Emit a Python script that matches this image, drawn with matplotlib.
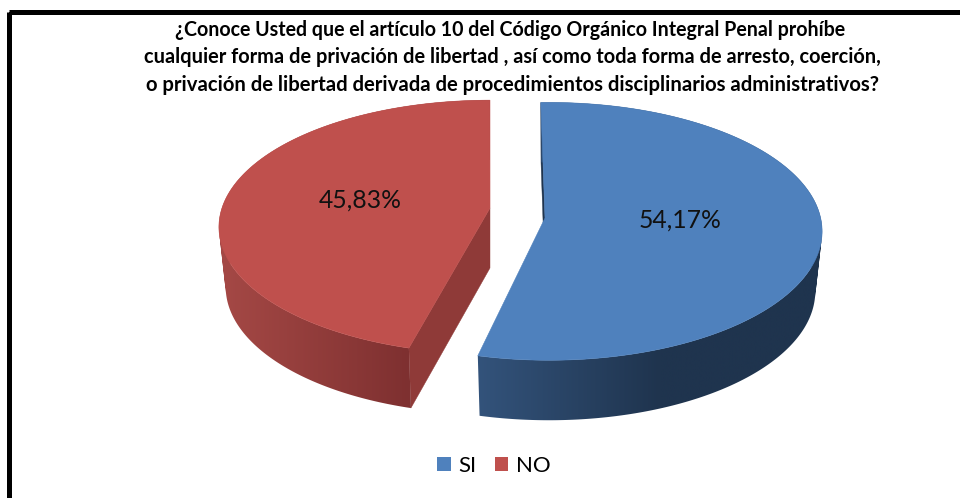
import numpy as np
import matplotlib
matplotlib.use("Agg")
import matplotlib.pyplot as plt
from matplotlib.colors import LinearSegmentedColormap
from matplotlib.patches import Patch, PathPatch, Polygon, Rectangle
from matplotlib.path import Path

categories = ["SI", "NO"]
values = [54.17, 45.83]
value_labels = ["54,17%", "45,83%"]
title_lines = [
    "¿Conoce Usted que el artículo 10 del Código Orgánico Integral Penal prohíbe",
    "cualquier forma de privación de libertad , así como toda forma de arresto, coerción,",
    "o privación de libertad derivada de procedimientos disciplinarios administrativos?",
]
top_colors = ["#4F81BD", "#BF504D"]
FONT = "Lato"

# per-slice drawing geometry, in pixels of the figure
styles = [
    dict(start=-2.0, cx=549, cy=212, a=270, b=126, apex=(545, 218),
         gx=[477, 660], gc=["#33537B", "#1F344E"], cut="#1F344E", lab=(680, 220)),
    dict(start=195.0, cx=490, cy=208, a=268, b=124, apex=(490, 208),
         gx=[225, 410], gc=["#A44845", "#7E3030"], cut="#8F3A38", lab=(360, 200)),
]
K = 0.15       # perspective
DEPTH = 60
SHRINK = 0.975  # lower rim is slightly narrower


def rim(t_deg, s, lower=False):
    t = np.radians(t_deg)
    x, y = np.sin(t), np.cos(t)
    w = 1 + K * y
    sx = SHRINK if lower else 1.0
    return (s["cx"] + sx * s["a"] * x / w,
            s["cy"] - s["b"] * y / w + (DEPTH if lower else 0))


def wall_path(ux, uy, lx, ly):
    """Union of the wall's quads, all wound the same way so none cancels."""
    verts, codes = [], []
    for i in range(len(ux) - 1):
        q = np.array([(ux[i], uy[i]), (ux[i + 1], uy[i + 1]),
                      (lx[i + 1], ly[i + 1]), (lx[i], ly[i])])
        area = np.sum(q[:, 0] * np.roll(q[:, 1], -1) - np.roll(q[:, 0], -1) * q[:, 1])
        if area < 0:
            q = q[::-1]
        verts += list(q) + [q[0]]
        codes += [Path.MOVETO, Path.LINETO, Path.LINETO, Path.LINETO, Path.CLOSEPOLY]
    return Path(np.array(verts), codes)


fig = plt.figure(figsize=(9.6, 4.98), dpi=100, facecolor="white")
ax = fig.add_axes([0, 0, 1, 1])
ax.axis("off")

# frame
ax.add_patch(Rectangle((8.5, 11.5), 1000, 1000, fill=False, ec="black", lw=3.6, zorder=1))

for val, color, s in zip(values, top_colors, styles):
    sweep = val / sum(values) * 360
    ts = np.linspace(s["start"], s["start"] + sweep, 360)
    ux, uy = rim(ts, s)
    lx, ly = rim(ts, s, lower=True)

    # radial wall on the starting edge
    ax0, ay0 = s["apex"]
    cut = [(ux[0], uy[0]), (lx[0], ly[0]), (ax0, ay0 + DEPTH), (ax0, ay0)]
    ax.add_patch(Polygon(cut, closed=True, fc=s["cut"], ec=s["cut"], lw=0.3, zorder=2))

    # outer wall: a horizontal gradient clipped to the wall's outline
    wall = PathPatch(wall_path(ux, uy, lx, ly), fc="none", ec="none", transform=ax.transData)
    ax.add_patch(wall)
    cmap = LinearSegmentedColormap.from_list("wall", s["gc"])
    all_x, all_y = np.r_[ux, lx], np.r_[uy, ly]
    ext_l, ext_r = all_x.min() - 2, all_x.max() + 2
    xs = np.linspace(ext_l, ext_r, 512)
    grad = np.clip((xs - s["gx"][0]) / (s["gx"][1] - s["gx"][0]), 0, 1).reshape(1, -1)
    im = ax.imshow(grad, cmap=cmap, vmin=0, vmax=1, aspect="auto",
                   extent=(ext_l, ext_r, all_y.max() + 2, all_y.min() - 2),
                   interpolation="bilinear", zorder=3)
    im.set_clip_path(wall)

    # top face
    top = np.column_stack([np.r_[ax0, ux], np.r_[ay0, uy]])
    ax.add_patch(Polygon(top, closed=True, fc=color, ec=color, lw=0.4, zorder=4))

ax.set_xlim(0, 960)
ax.set_ylim(498, 0)

for lab, s in zip(value_labels, styles):
    ax.text(*s["lab"], lab, ha="center", va="center", fontsize=17.8,
            family=FONT, color="#111111", zorder=5)

for line, y, xc, fs in zip(title_lines, [30, 57, 85], [510, 512, 512], [14.1, 14.45, 14.55]):
    ax.text(xc, y, line, ha="center", va="center", fontsize=fs,
            family=FONT, fontweight="bold", color="black", zorder=5)

handles = [Patch(fc=c, ec="none", label=n) for c, n in zip(top_colors, categories)]
ax.legend(handles=handles, ncol=2, frameon=False, loc="center",
          bbox_to_anchor=(494 / 960, 1 - 466 / 498),
          prop={"family": FONT, "size": 16},
          handlelength=0.6, handleheight=0.6, handletextpad=0.36, columnspacing=0.8)

fig.savefig("out.png", dpi=100, facecolor="white")
